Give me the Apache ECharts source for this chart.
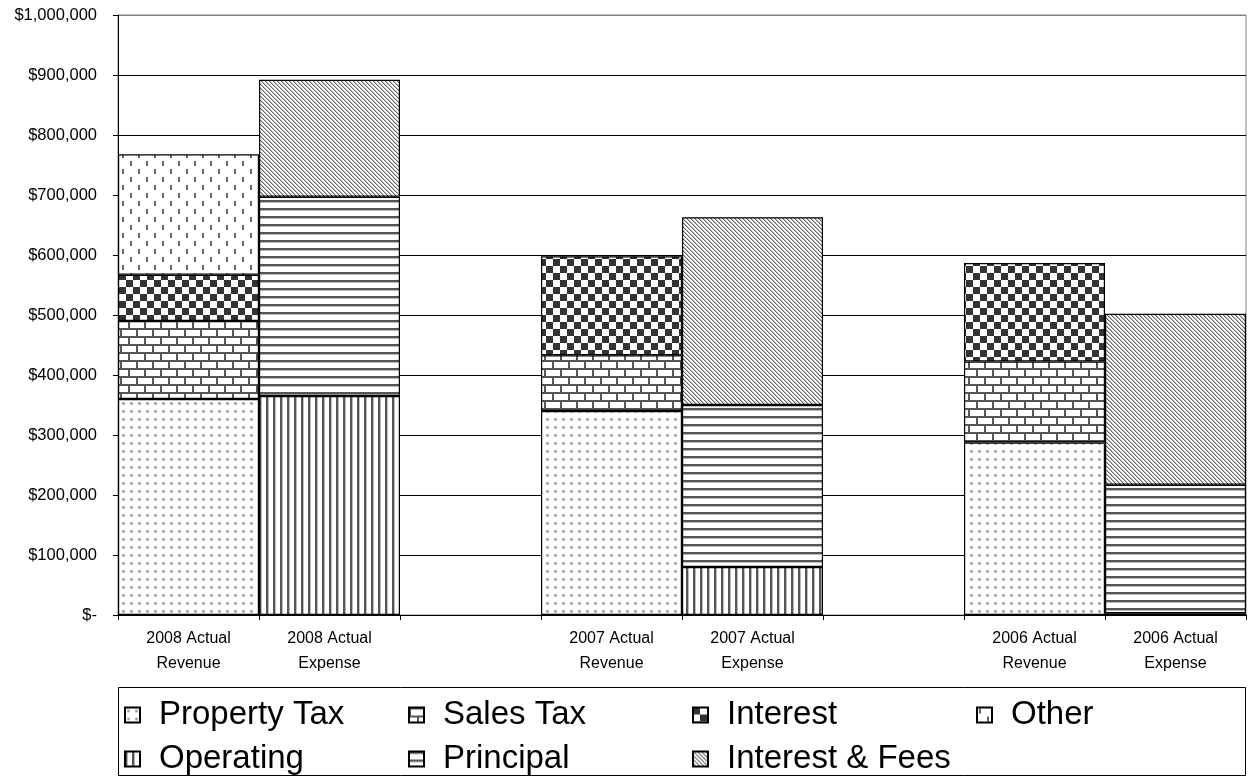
<!DOCTYPE html>
<html>
<head>
<meta charset="utf-8">
<script src="https://cdn.jsdelivr.net/npm/echarts@6/dist/echarts.min.js"></script>
<style>
  html, body { margin: 0; padding: 0; background: #fff; }
  #chart { width: 1250px; height: 782px; }
</style>
</head>
<body>
<div id="chart"></div>
<script>
// Categories: revenue / expense pairs per year, with empty spacer slots between years
const categories = [
  '2008 Actual\nRevenue', '2008 Actual\nExpense', '',
  '2007 Actual\nRevenue', '2007 Actual\nExpense', ' ',
  '2006 Actual\nRevenue', '2006 Actual\nExpense'
];

// Revenue components
const propertyTax = [360000, null, null, 340000, null, null, 287500, null];
const salesTax    = [130000, null, null,  93000, null, null, 135000, null];
const interest    = [ 77000, null, null, 165000, null, null, 164000, null];
const other       = [201000, null, null,   null, null, null,   null, null];

// Expense components
const operating      = [null, 365000, null, null,  80000, null, null,   3000];
const principal      = [null, 332000, null, null, 270000, null, null, 214000];
const interestFees   = [null, 195000, null, null, 313000, null, null, 285000];

const seriesNames = ['Property Tax', 'Sales Tax', 'Interest', 'Other',
                     'Operating', 'Principal', 'Interest & Fees'];
const seriesValues = [propertyTax, salesTax, interest, other,
                      operating, principal, interestFees];

// Fill patterns, drawn on small tiles
function tile(w, h, draw) {
  const c = document.createElement('canvas');
  c.width = w; c.height = h;
  const g = c.getContext('2d');
  g.fillStyle = '#fff';
  g.fillRect(0, 0, w, h);
  draw(g);
  return { image: c, repeat: 'repeat' };
}

const patterns = {
  'Property Tax': tile(8, 8, g => {
    g.fillStyle = '#bbb'; g.fillRect(2, 2, 3, 3);
    g.fillStyle = '#777'; g.fillRect(3, 3, 1, 1);
  }),
  'Sales Tax': tile(16, 16, g => {
    g.fillStyle = '#555';
    g.fillRect(0, 0, 16, 2);
    g.fillRect(0, 8, 16, 2);
    g.fillRect(0, 0, 2, 8);
    g.fillRect(8, 8, 2, 8);
  }),
  'Interest': tile(14, 14, g => {
    g.fillStyle = '#333';
    g.fillRect(0, 0, 7, 7);
    g.fillRect(7, 7, 7, 7);
  }),
  'Other': tile(16, 16, g => {
    g.fillStyle = '#666';
    g.fillRect(2, 1, 2, 5);
    g.fillRect(10, 9, 2, 5);
  }),
  'Operating': tile(7, 7, g => {
    g.fillStyle = '#555'; g.fillRect(0, 0, 2, 7);
    g.fillStyle = '#bbb'; g.fillRect(2, 0, 1, 7);
  }),
  'Principal': tile(8, 8, g => {
    g.fillStyle = '#555'; g.fillRect(0, 0, 8, 2);
    g.fillStyle = '#bbb'; g.fillRect(0, 2, 8, 1);
  }),
  'Interest & Fees': tile(4, 4, g => {
    for (let i = 0; i < 4; i++) {
      g.fillStyle = '#666'; g.fillRect(i, i, 1, 1);
      g.fillStyle = '#bbb'; g.fillRect((i + 1) % 4, i, 1, 1);
    }
  })
};

const font = 'Liberation Sans, Arial, sans-serif';

function moneyLabel(v) {
  if (v === 0) return '$-';
  return '$' + v.toLocaleString('en-US');
}

const series = seriesNames.map((name, i) => ({
  name: name,
  type: 'bar',
  stack: 'total',
  barWidth: '100%',
  barCategoryGap: 0,
  data: seriesValues[i],
  itemStyle: {
    color: patterns[name],
    borderColor: '#000',
    borderWidth: 1.2
  },
  emphasis: { disabled: true }
}));

const splitColors = [];
for (let i = 0; i < 10; i++) splitColors.push('#000');
splitColors.push('#808080');

const legendText = {
  fontFamily: font,
  fontSize: 33,
  color: '#000',
  width: 249,
  lineHeight: 36,
  padding: [0, 0, 0, 14]
};

const legendBase = {
  left: 124, width: 1160, padding: 0, itemGap: 0,
  itemWidth: 15, itemHeight: 15, icon: 'rect',
  selectedMode: false,
  textStyle: legendText
};

const option = {
  animation: false,
  backgroundColor: '#fff',
  grid: {
    left: 118, right: 4, top: 15, bottom: 167,
    show: true, borderColor: '#808080', borderWidth: 1,
    containLabel: false
  },
  xAxis: {
    type: 'category',
    data: categories,
    boundaryGap: true,
    axisLine: { lineStyle: { color: '#000', width: 1 } },
    axisTick: { show: true, interval: 0, length: 5, lineStyle: { color: '#000' } },
    axisLabel: {
      interval: 0, margin: 11,
      fontFamily: font, fontSize: 16, color: '#000', lineHeight: 25
    },
    splitLine: { show: false }
  },
  yAxis: {
    type: 'value',
    min: 0, max: 1000000, interval: 100000,
    axisLine: { show: true, lineStyle: { color: '#000', width: 1 } },
    axisTick: { show: true, length: 5, lineStyle: { color: '#000' } },
    axisLabel: {
      margin: 21, fontFamily: font, fontSize: 16.5, color: '#000',
      formatter: moneyLabel
    },
    splitLine: { show: true, lineStyle: { color: splitColors, width: 1 } }
  },
  legend: [
    Object.assign({ data: seriesNames.slice(0, 4), top: 697 }, legendBase),
    Object.assign({ data: seriesNames.slice(4), top: 741 }, legendBase)
  ],
  graphic: [
    {
      type: 'rect',
      shape: { x: 118.5, y: 687.5, width: 1127, height: 88 },
      style: { fill: 'none', stroke: '#000', lineWidth: 1 },
      silent: true, z: 10
    }
  ],
  series: series
};

const chart = echarts.init(document.getElementById('chart'), null, { renderer: 'canvas' });
chart.setOption(option);
</script>
</body>
</html>
